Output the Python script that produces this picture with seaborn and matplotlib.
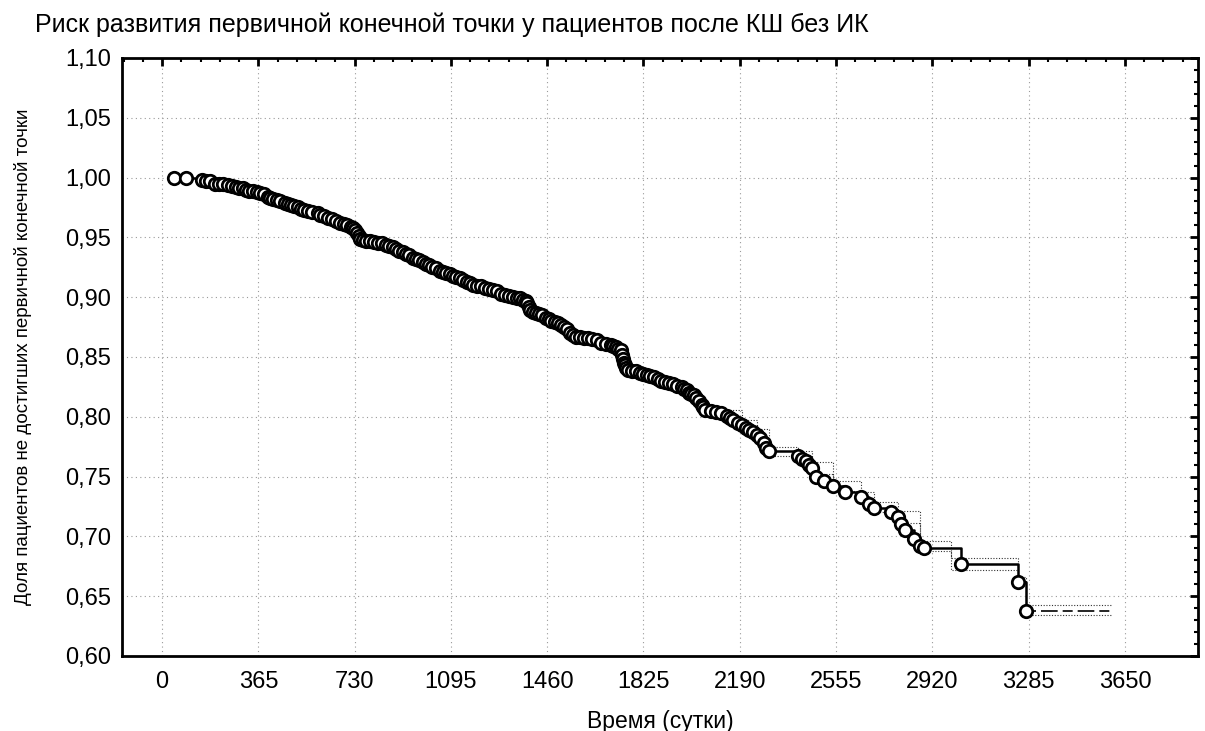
import numpy as np
import pandas as pd
import matplotlib
matplotlib.use('Agg')
import matplotlib.pyplot as plt
import matplotlib.ticker as mticker
import seaborn as sns

# Kaplan-Meier estimate (time in days, share without endpoint)
km_time = [45, 90, 150, 165, 180, 200, 215, 230, 250, 265,
           280, 292, 305, 320, 330, 345, 360, 372, 385, 400,
           410, 422, 435, 448, 465, 478, 490, 502, 515, 528,
           540, 555, 570, 590, 600, 615, 630, 645, 660, 675,
           688, 700, 715, 725, 732, 738, 745, 752, 760, 775,
           790, 805, 820, 835, 850, 862, 875, 888, 900, 912,
           925, 938, 950, 962, 975, 988, 1000, 1012, 1025, 1040,
           1052, 1065, 1078, 1090, 1102, 1115, 1130, 1142, 1155, 1168,
           1180, 1195, 1210, 1225, 1240, 1255, 1270, 1285, 1300, 1315,
           1330, 1345, 1358, 1370, 1378, 1385, 1390, 1395, 1405, 1418,
           1430, 1442, 1455, 1465, 1475, 1488, 1500, 1512, 1525, 1535,
           1545, 1558, 1570, 1585, 1600, 1615, 1630, 1648, 1665, 1682,
           1700, 1710, 1720, 1730, 1738, 1743, 1748, 1752, 1755, 1760,
           1765, 1780, 1795, 1810, 1825, 1838, 1850, 1865, 1880, 1892,
           1905, 1920, 1935, 1952, 1970, 1980, 1990, 1998, 2005, 2015,
           2025, 2035, 2045, 2052, 2060, 2080, 2100, 2120, 2140, 2152,
           2165, 2182, 2200, 2212, 2225, 2240, 2255, 2268, 2280, 2290,
           2300, 2410, 2425, 2440, 2452, 2465, 2480, 2510, 2545, 2590,
           2650, 2680, 2700, 2765, 2790, 2800, 2815, 2850, 2875, 2890,
           3030, 3245, 3275]
km_surv = [1.000, 1.000, 0.998, 0.997, 0.997, 0.995, 0.995, 0.995, 0.994, 0.993,
           0.992, 0.991, 0.991, 0.990, 0.989, 0.989, 0.988, 0.987, 0.986, 0.984,
           0.983, 0.982, 0.981, 0.980, 0.979, 0.978, 0.977, 0.976, 0.975, 0.974,
           0.973, 0.972, 0.971, 0.970, 0.969, 0.968, 0.966, 0.965, 0.964, 0.962,
           0.961, 0.960, 0.959, 0.958, 0.956, 0.954, 0.951, 0.949, 0.948, 0.947,
           0.947, 0.946, 0.945, 0.945, 0.944, 0.943, 0.942, 0.940, 0.939, 0.938,
           0.936, 0.935, 0.933, 0.932, 0.931, 0.929, 0.928, 0.927, 0.925, 0.924,
           0.922, 0.921, 0.920, 0.919, 0.918, 0.917, 0.916, 0.914, 0.913, 0.912,
           0.910, 0.909, 0.909, 0.908, 0.907, 0.906, 0.905, 0.903, 0.902, 0.901,
           0.900, 0.899, 0.899, 0.898, 0.897, 0.895, 0.892, 0.889, 0.888, 0.887,
           0.886, 0.885, 0.883, 0.882, 0.880, 0.879, 0.878, 0.877, 0.875, 0.873,
           0.870, 0.868, 0.867, 0.867, 0.866, 0.866, 0.865, 0.864, 0.862, 0.861,
           0.860, 0.859, 0.858, 0.857, 0.856, 0.852, 0.848, 0.845, 0.843, 0.841,
           0.839, 0.838, 0.838, 0.837, 0.836, 0.835, 0.834, 0.833, 0.832, 0.830,
           0.829, 0.828, 0.827, 0.826, 0.825, 0.823, 0.822, 0.820, 0.819, 0.818,
           0.816, 0.813, 0.810, 0.808, 0.806, 0.805, 0.804, 0.803, 0.801, 0.799,
           0.797, 0.795, 0.793, 0.791, 0.789, 0.787, 0.785, 0.782, 0.778, 0.774,
           0.771, 0.767, 0.765, 0.763, 0.760, 0.757, 0.750, 0.746, 0.742, 0.737,
           0.733, 0.727, 0.724, 0.720, 0.716, 0.710, 0.705, 0.698, 0.692, 0.690,
           0.677, 0.662, 0.638]
assert len(km_time) == len(km_surv)

# dotted confidence bounds, visible on the tail of the curve
ci_time = [2140, 2200, 2255, 2300, 2410, 2465, 2545, 2650, 2700, 2790, 2875, 2990, 3245, 3275, 3600]
ci_upper = [0.806, 0.797, 0.790, 0.775, 0.771, 0.762, 0.746, 0.737, 0.729, 0.721, 0.696, 0.682, 0.666, 0.643, 0.643]
ci_lower = [0.797, 0.789, 0.781, 0.767, 0.763, 0.752, 0.738, 0.729, 0.720, 0.711, 0.688, 0.672, 0.659, 0.634, 0.634]
tail_end = 3600

x_ticks = list(range(0, 3651, 365))
y_ticks = [0.60, 0.65, 0.70, 0.75, 0.80, 0.85, 0.90, 0.95, 1.00, 1.05, 1.10]

title = 'Риск развития первичной конечной точки у пациентов после КШ без ИК'
x_label = 'Время (сутки)'
y_label = 'Доля пациентов не достигших первичной конечной точки'

sns.set_theme(style='white')
plt.rcParams['font.family'] = ['Liberation Sans', 'DejaVu Sans']
plt.rcParams['text.color'] = 'black'
plt.rcParams['axes.labelcolor'] = 'black'

df = pd.DataFrame({'time': km_time, 'surv': km_surv})
ci = pd.DataFrame({'time': ci_time, 'upper': ci_upper, 'lower': ci_lower})

fig = plt.figure(figsize=(12.05, 7.31), dpi=100)
ax = fig.add_axes([0.1012, 0.1026, 0.8930, 0.8181])

# confidence bounds (dotted steps)
for col in ['upper', 'lower']:
    sns.lineplot(data=ci, x='time', y=col, ax=ax, color='#333333', lw=0.8,
                 linestyle=(0, (1, 1.5)), drawstyle='steps-post', estimator=None, sort=False)

# survival step curve
sns.lineplot(data=df, x='time', y='surv', ax=ax, color='black', lw=1.8,
             drawstyle='steps-post', estimator=None, sort=False)
# dashed continuation after last point
ax.plot([km_time[-1], tail_end], [km_surv[-1], km_surv[-1]], color='black',
        lw=1.2, linestyle=(0, (6, 3, 10, 3)))

# censoring circles
sns.scatterplot(data=df, x='time', y='surv', ax=ax, marker='o', s=80,
                facecolor='white', edgecolor='black', linewidth=2.0, zorder=5)

ax.set_xlim(-152, 3927)
ax.set_ylim(0.60, 1.10)
ax.set_xticks(x_ticks)
ax.set_yticks(y_ticks)
ax.xaxis.set_minor_locator(mticker.MultipleLocator(73))
ax.yaxis.set_minor_locator(mticker.MultipleLocator(0.01))
ax.yaxis.set_major_formatter(mticker.FuncFormatter(lambda v, p: f'{v:.2f}'.replace('.', ',')))

ax.grid(True, which='major', color='#9a9a9a', linestyle=(0, (1, 3)), lw=0.8)
ax.tick_params(which='both', direction='in', top=True, right=True, colors='black',
               labelsize=17)
ax.tick_params(which='major', length=6, width=2)
ax.tick_params(which='minor', length=3, width=1.5)
ax.tick_params(axis='x', pad=11)
ax.tick_params(axis='y', pad=8)
for side in ax.spines.values():
    side.set_color('black')
    side.set_linewidth(2)

ax.set_xlabel(x_label, fontsize=16.5, labelpad=12, color='black')
ax.set_ylabel(y_label, fontsize=13.5, labelpad=24, color='black')
fig.text(35 / 1205, 1 - 25 / 731, title, fontsize=18, ha='left', va='center', color='black')

fig.savefig('out.png', dpi=100)
